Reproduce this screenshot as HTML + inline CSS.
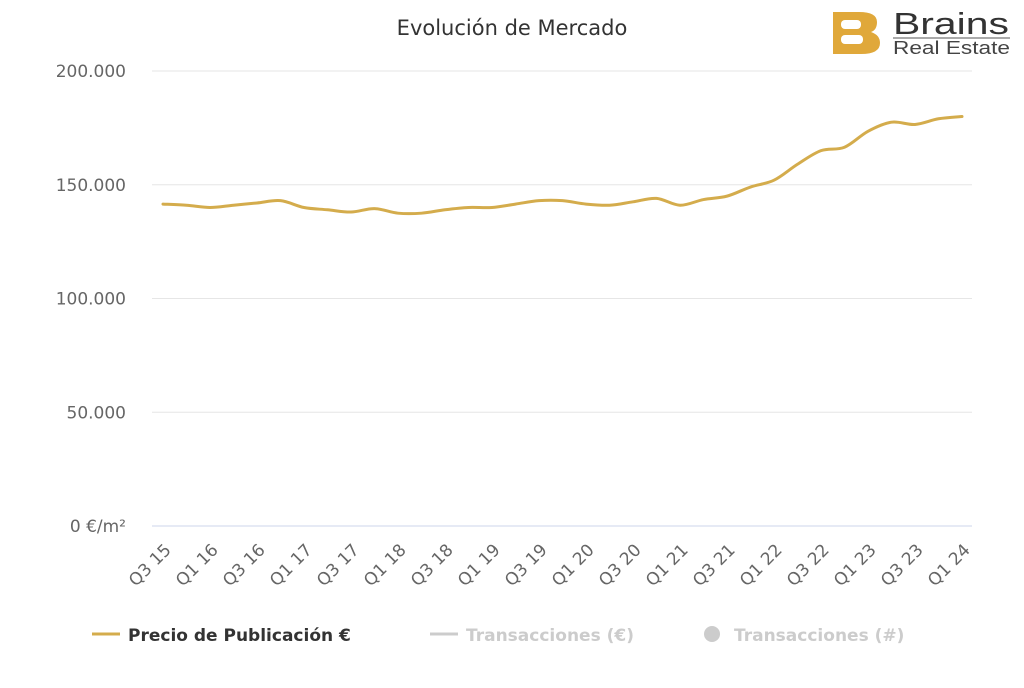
<!DOCTYPE html>
<html><head><meta charset="utf-8"><style>
body{margin:0;background:#fff;width:1024px;height:683px;overflow:hidden;font-family:"Liberation Sans","DejaVu Sans",sans-serif}
</style></head><body>
<svg id="chart" width="1024" height="683" xmlns="http://www.w3.org/2000/svg" font-family="DejaVu Sans, Liberation Sans, sans-serif">
<text x="512" y="35" text-anchor="middle" font-size="21" fill="#333">Evolución de Mercado</text>
<g>
<path d="M833 12 h26 q18 0 18 10 q0 8 -6 10 q9 3 9 11 q0 11 -19 11 h-28 z" fill="#e0a83a"/>
<rect x="841" y="20" width="20" height="9" rx="4" fill="#fff"/>
<rect x="841" y="35" width="22" height="9" rx="4" fill="#fff"/>
<text x="893" y="34" font-size="31" fill="#333" font-family="Liberation Sans, sans-serif" textLength="116" lengthAdjust="spacingAndGlyphs">Brains</text>
<line x1="893" y1="38" x2="1010" y2="38" stroke="#555" stroke-width="1"/>
<text x="893" y="54" font-size="18" fill="#444" font-family="Liberation Sans, sans-serif" textLength="117" lengthAdjust="spacingAndGlyphs">Real Estate</text>
</g>
<g id="grid"></g><g id="xaxis"></g><g id="series"></g>
<g font-size="17" font-weight="bold">
<g><line x1="92" y1="634" x2="120" y2="634" stroke="#d4ac4c" stroke-width="3"/><text x="128" y="641" fill="#333">Precio de Publicación €</text></g>
<g><line x1="430" y1="634" x2="458" y2="634" stroke="#ccc" stroke-width="3"/><text x="466" y="641" fill="#ccc">Transacciones (€)</text></g>
<g><circle cx="712" cy="634" r="8" fill="#ccc"/><text x="734" y="641" fill="#ccc">Transacciones (#)</text></g>
</g>
</svg>
<script>
const categories=[];
for(let i=0;i<35;i++){const q=(2+i)%4+1;const y=15+Math.floor((2+i)/4);categories.push('Q'+q+' '+y);}
const precio=[141.5,141,140,141,142,143,140,139,138,139.5,137.5,137.5,139,140,140,141.5,143,143,141.5,141,142.5,144,141,143.5,145,149,152,159,165,166.5,173.5,177.5,176.5,179,180];
const yTicks=[0,50,100,150,200];
const yTickLabels=['0 €/m²','50.000','100.000','150.000','200.000'];
const ns='http://www.w3.org/2000/svg';
const x0=163,x1=962,yb=526,yt=71;
const xs=i=>x0+(x1-x0)*i/(categories.length-1);
const ys=v=>yb-(yb-yt)*v/200;
function mk(t,a,p){const e=document.createElementNS(ns,t);for(const k in a)e.setAttribute(k,a[k]);p.appendChild(e);return e;}
const grid=document.getElementById('grid');
yTicks.forEach((v,i)=>{
 const l=mk('line',{x1:152,x2:972,y1:ys(v),y2:ys(v),stroke:i==0?'#ccd6eb':'#e6e6e6','stroke-width':1},grid);
 
 
 const t=mk('text',{x:126,y:ys(v)+6,'text-anchor':'end','font-size':17,fill:'#666'},grid);
 t.textContent=yTickLabels[i];
 
 
});
const xa=document.getElementById('xaxis');
categories.forEach((c,i)=>{
 if(i%2)return;
 const x=xs(i)+9,y=551;
 const t=mk('text',{x:x,y:y,'text-anchor':'end','font-size':17,fill:'#666',transform:`rotate(-45 ${x} ${y})`},xa);
 t.textContent=c;
 
 
});
const pts=precio.map((v,i)=>[xs(i),ys(v)]);
let d='M'+pts[0][0]+' '+pts[0][1];
for(let i=0;i<pts.length-1;i++){
 const p0=pts[Math.max(0,i-1)],p1=pts[i],p2=pts[i+1],p3=pts[Math.min(pts.length-1,i+2)];
 const c1=[p1[0]+(p2[0]-p0[0])/6,p1[1]+(p2[1]-p0[1])/6],c2=[p2[0]-(p3[0]-p1[0])/6,p2[1]-(p3[1]-p1[1])/6];
 d+=` C${c1[0]} ${c1[1]} ${c2[0]} ${c2[1]} ${p2[0]} ${p2[1]}`;
}
const path=mk('path',{d:d,fill:'none',stroke:'#d4ac4c','stroke-width':3,'stroke-linecap':'round'},document.getElementById('series'));


</script>
</body></html>
